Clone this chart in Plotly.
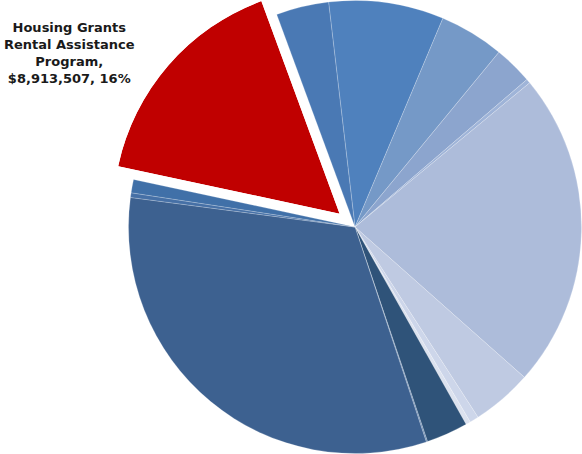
import math
import plotly.graph_objects as go

# Program funding (dollars), in the order the slices run clockwise
programs = [
    "Program 01", "Program 02", "Program 03", "Program 04", "Program 05",
    "Program 06", "Program 07", "Program 08", "Program 09", "Program 10",
    "Program 11", "Program 12", "Program 13",
    "Housing Grants Rental Assistance Program",
    "Program 15",
]
funding = [
    4565000, 2569000, 1532000, 170000, 12535000,
    2399000, 356000, 186000, 1656000, 46000,
    17905000, 186000, 526000,
    8913507,
    2089000,
]
colors = [
    "#4F81BD", "#7599C7", "#8CA5CE", "#9FB4D8", "#ADBCDA",
    "#BFCAE2", "#CDD6EA", "#DCE2EF", "#2F5379", "#5E80AA",
    "#3D6190", "#4670A6", "#4070A8",
    "#C00000",
    "#4A79B4",
]
highlight = 13  # index of the exploded slice

W, H = 582, 454
CX, CY, R = 355.0, 227.0, 226.5   # pie centre / radius in pixels
ROTATION = -6.7                   # compass angle where the first slice starts
PULL = 0.09                       # explode distance, fraction of the radius

total = sum(funding)
share = funding[highlight] / total
start = ROTATION + 360.0 * sum(funding[:highlight]) / total
span = 360.0 * share
mid = start + span / 2

fig = go.Figure()

# Main pie; the highlighted slice is left empty and redrawn exploded below
pie_colors = [c if i != highlight else "rgba(0,0,0,0)" for i, c in enumerate(colors)]
line_widths = [0.6 if i != highlight else 0 for i in range(len(funding))]
fig.add_trace(go.Pie(
    labels=programs,
    values=funding,
    sort=False,
    direction="clockwise",
    rotation=ROTATION,
    marker=dict(colors=pie_colors,
                line=dict(color="rgba(255,255,255,0.35)", width=line_widths)),
    textinfo="none",
    hoverinfo="label+value+percent",
    showlegend=False,
    domain=dict(x=[(CX - R) / W, (CX + R) / W], y=[(H - CY - R) / H, (H - CY + R) / H]),
))

# Exploded slice on a sector-only polar subplot
fig.add_trace(go.Barpolar(
    r=[1],
    theta=[mid % 360],
    width=[span],
    marker=dict(color=colors[highlight], line=dict(width=0)),
    name=programs[highlight],
    hoverinfo="name",
    showlegend=False,
    subplot="polar",
))

# apex of the exploded slice
ax = CX + PULL * R * math.sin(math.radians(mid))
ay = CY - PULL * R * math.cos(math.radians(mid))

# sector in screen (counter-clockwise from east) degrees
s0 = (90 - (start + span)) % 360
s1 = s0 + span
angles = [s0, s1] + [a for a in (90, 180, 270, 360, 450, 540) if s0 < a < s1]
xs = [math.cos(math.radians(a)) for a in angles] + [0.0]
ys = [math.sin(math.radians(a)) for a in angles] + [0.0]
bx0, bx1, by0, by1 = min(xs), max(xs), min(ys), max(ys)

left = ax + bx0 * R
right = ax + bx1 * R
top = ay - by1 * R
bottom = ay - by0 * R

fig.update_layout(
    polar=dict(
        domain=dict(x=[left / W, right / W], y=[(H - bottom) / H, (H - top) / H]),
        sector=[s0, s1],
        hole=0,
        bgcolor="rgba(0,0,0,0)",
        angularaxis=dict(direction="clockwise", rotation=90, visible=False,
                         showgrid=False, showline=False, ticks=""),
        radialaxis=dict(range=[0, 1], visible=False, showgrid=False,
                        showline=False, ticks=""),
    ),
)

label_name = programs[highlight].replace("Grants ", "Grants<br>").replace("Assistance ", "Assistance<br>")
label = f"<b>{label_name},<br>${funding[highlight]:,}, {share * 100:.0f}%</b>"
fig.add_annotation(
    text=label,
    xref="paper", yref="paper",
    x=69 / W, y=1 - 53 / H,
    xanchor="center", yanchor="middle",
    showarrow=False, align="center",
    font=dict(family="DejaVu Sans", size=13, color="#1a1a1a"),
)

fig.update_layout(
    width=W, height=H,
    margin=dict(l=0, r=0, t=0, b=0),
    paper_bgcolor="white",
    plot_bgcolor="white",
)

fig.write_html("out.html")
